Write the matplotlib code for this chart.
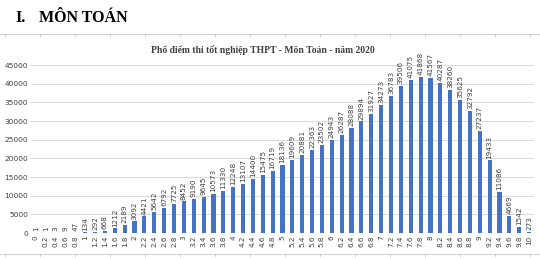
import matplotlib
matplotlib.use("Agg")
import matplotlib.pyplot as plt
import numpy as np

scores = ["0", "0.2", "0.4", "0.6", "0.8", "1", "1.2", "1.4", "1.6", "1.8",
          "2", "2.2", "2.4", "2.6", "2.8", "3", "3.2", "3.4", "3.6", "3.8",
          "4", "4.2", "4.4", "4.6", "4.8", "5", "5.2", "5.4", "5.6", "5.8",
          "6", "6.2", "6.4", "6.6", "6.8", "7", "7.2", "7.4", "7.6", "7.8",
          "8", "8.2", "8.4", "8.6", "8.8", "9", "9.2", "9.4", "9.6", "9.8", "10"]
counts = [1, 1, 3, 9, 47, 134, 292, 668, 1212, 2189,
          3092, 4421, 5642, 6792, 7725, 8452, 9190, 9645, 10573, 11330,
          12248, 13107, 14400, 15475, 16719, 18136, 19609, 20881, 22363, 23502,
          24943, 26287, 28088, 29894, 31927, 34273, 36783, 39506, 41075, 41868,
          41567, 40287, 38260, 35625, 32792, 27237, 19433, 11086, 4669, 1542, 273]
y_ticks = [0, 5000, 10000, 15000, 20000, 25000, 30000, 35000, 40000, 45000]

W, H = 540, 258
fig = plt.figure(figsize=(W / 100, H / 100), dpi=100)

# document header
fig.text(15 / W, 1 - 18 / H, "I.", fontsize=11.5, fontweight="bold",
         family="Liberation Serif", va="center", ha="left")
fig.text(39 / W, 1 - 18 / H, "MÔN TOÁN", fontsize=11.5, fontweight="bold",
         family="Liberation Serif", va="center", ha="left")

# ruler-like lines of the embedded chart frame
for yy in (34, 254):
    fig.add_artist(plt.Line2D([0, 1], [1 - yy / H, 1 - yy / H], color="#d0d0d0", lw=0.8))
    for xx in range(5, W, 35):
        fig.add_artist(plt.Line2D([xx / W, xx / W], [1 - yy / H, 1 - (yy + 2) / H],
                                  color="#c0c0c0", lw=0.6))

fig.text(263 / W, 1 - 50 / H, "Phổ điểm thi tốt nghiệp THPT - Môn Toán - năm 2020",
         fontsize=6.9, fontweight="bold", family="Liberation Serif",
         color="#404040", ha="center", va="center")

ax = fig.add_axes([31 / W, 1 - 233 / H, 503 / W, 168 / H])
x = np.arange(len(scores))
ax.bar(x, counts, width=0.42, color="#4472C4", zorder=3)
for xi, v in zip(x, counts):
    ax.text(xi, v + 500, str(v), rotation=90, ha="center", va="bottom",
            fontsize=5.2, color="#404040")

ax.set_xlim(-0.5, len(scores) - 0.5)
ax.set_ylim(0, 45000)
ax.set_yticks(y_ticks)
ax.set_yticklabels([str(t) for t in y_ticks], fontsize=5.4, color="#404040")
ax.set_xticks(x)
ax.set_xticklabels(scores, rotation=90, fontsize=5.2, color="#404040")
ax.tick_params(length=0, pad=2)
ax.grid(axis="y", color="#d9d9d9", lw=0.7, zorder=0)
for s in ax.spines.values():
    s.set_visible(False)

fig.savefig("out.png", dpi=100)
